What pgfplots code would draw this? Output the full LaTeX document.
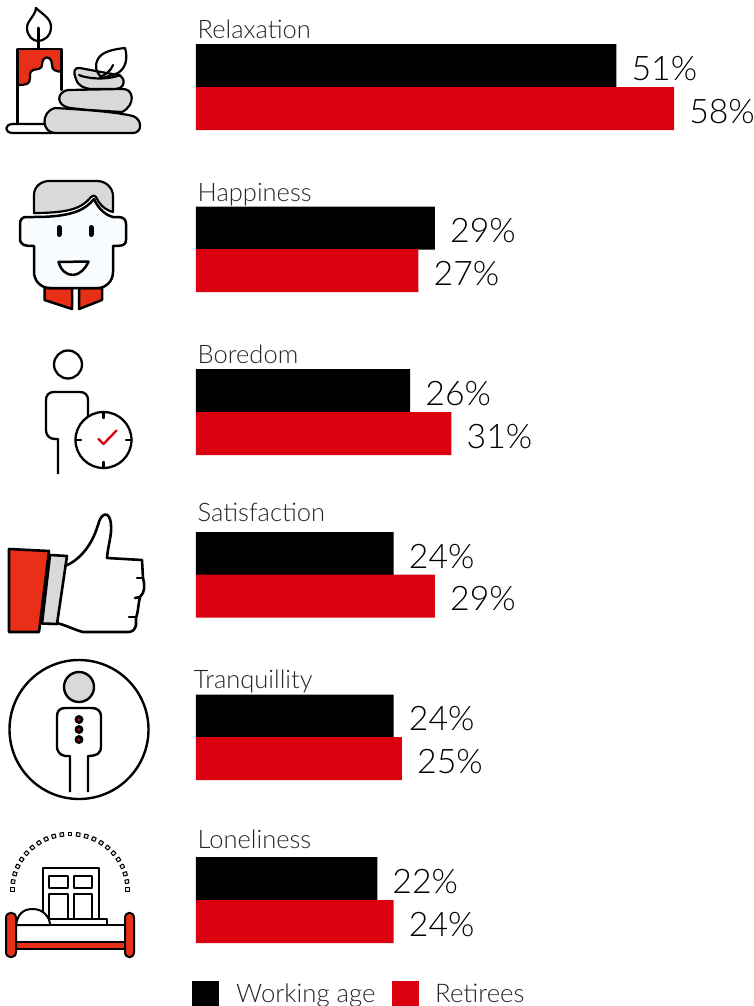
\documentclass[border=0pt]{standalone}
\usepackage{fontspec}
\setmainfont{Lato Light}
\usepackage{pgfplots}
\pgfplotsset{compat=1.18}
\usepackage{pgfplotstable}
\definecolor{barred}{HTML}{DA0010}
\definecolor{iconred}{HTML}{E83018}
\definecolor{icongrey}{HTML}{D8DAD9}
\definecolor{faceblue}{HTML}{F9FCFF}
\pgfplotstableread{
ypos value
65.5 51
228 29
390.5 26
553.5 24
716 24
878.5 22
}\workingage
\pgfplotstableread{
ypos value
108.5 58
270.5 27
433.5 31
596 29
758.5 25
921.5 24
}\retirees
\newcommand{\catlabel}[3]{\node[anchor=base west,inner sep=0pt,font=\fontsize{25.5}{25.5}\selectfont,text=black!85] at (axis cs:#1,#2) {#3};}
\begin{document}
\begin{tikzpicture}
\begin{axis}[
  at={(0pt,0pt)},anchor=north west,
  scale only axis,width=753pt,height=1006pt,
  hide axis,clip=false,
  xmin=-23.7576,xmax=67.5758,
  ymin=0,ymax=1006,y dir=reverse,
  xbar,bar width=43,bar shift=0pt,
  point meta=x,
  nodes near coords={\pgfmathprintnumber[assume math mode=true]{\pgfplotspointmeta}\%},
  every node near coord/.append style={font=\fontsize{33.8}{33.8}\selectfont,anchor=west,inner sep=0pt,xshift=15pt,yshift=-3pt,text=black},
]
\addplot[fill=black,draw=none] table[x=value,y=ypos]{\workingage};
\addplot[fill=barred,draw=none] table[x=value,y=ypos]{\retirees};
\catlabel{0.2}{38.7}{Relaxation}
\catlabel{0.2}{201.7}{Happiness}
\catlabel{0.2}{363.7}{Boredom}
\catlabel{0.2}{521.7}{Satisfaction}
\catlabel{-0.3}{688.7}{Tranquillity}
\catlabel{0.2}{848.7}{Loneliness}
\end{axis}
\begin{scope}[x=1pt,y=-1pt,line join=round,line cap=round]
% legend
\fill[black] (192,981) rectangle (219,1006);
\fill[barred] (392,981) rectangle (419,1006);
\node[anchor=base west,inner sep=0pt,font=\fontsize{25.7}{25.7}\selectfont,text=black!85] at (236,1002) {Working age};
\node[anchor=base west,inner sep=0pt,font=\fontsize{25.7}{25.7}\selectfont,text=black!85] at (435,1002) {Retirees};
% candle and stones
\begin{scope}[line width=2.2pt]
\fill[iconred] (17.5,49) -- (61.5,49) -- (61.5,72) .. controls (55,71) and (52,70) .. (52,65) .. controls (52,55) and (42,55) .. (42,65) .. controls (42,69) and (38,69) .. (33,70) .. controls (30,71) and (30,73) .. (30,78) .. controls (30,84) and (27,85) .. (17.5,85) -- cycle;
\draw (17.5,124) -- (17.5,49) -- (61.5,49) -- (61.5,90);
\draw (17.5,85) .. controls (27,85) and (30,84) .. (30,78) .. controls (30,73) and (30,71) .. (33,70) .. controls (38,69) and (42,69) .. (42,65) .. controls (42,55) and (52,55) .. (52,65) .. controls (52,70) and (55,71) .. (61.5,72);
\draw[line width=3pt] (38.5,28) -- (38.5,49);
\draw (36,8) .. controls (42,14) and (51,18) .. (51,27) .. controls (51,37) and (43,41) .. (38,41) .. controls (33,41) and (27,36) .. (27,28) .. controls (27,20) and (35,17) .. (36,8) -- cycle;
\draw (46,124) -- (13,124) .. controls (4,124) and (4,133) .. (13,133) -- (52,133);
\filldraw[fill=icongrey] (80,68) .. controls (74,67) and (73,72) .. (76,79) .. controls (78,86) and (84,88) .. (90,89) -- (115,89) .. controls (126,89) and (126,77) .. (118,75) .. controls (107,73) and (95,71) .. (80,68) -- cycle;
\filldraw[fill=icongrey] (68,90) -- (122,89) .. controls (134,88) and (136,105) .. (122,112) -- (88,110) -- (70,108) .. controls (56,106) and (56,92) .. (68,90) -- cycle;
\filldraw[fill=icongrey] (55,108) .. controls (90,110) and (115,112) .. (133,116) .. controls (143,120) and (142,133) .. (133,133) -- (55,133) .. controls (42,133) and (40,112) .. (55,108) -- cycle;
\draw (125,48) .. controls (128,58) and (126,68) .. (118,73) -- (103,78) .. controls (96,74) and (94,66) .. (98,59) .. controls (102,51) and (116,49) .. (125,48) -- cycle;
\draw (113,65) .. controls (110,72) and (105,75) .. (100,77);
\draw (79,75) .. controls (85,78) and (105,81) .. (120,75);
\end{scope}
% face
\begin{scope}[line width=2.5pt]
\filldraw[fill=iconred] (44.5,288) -- (44.5,300) -- (72,309) -- (72,288) -- cycle;
\filldraw[fill=iconred] (79,309) -- (102,300) -- (102,288) -- (79,288) -- cycle;
\filldraw[fill=faceblue] (26,217) -- (34,217) .. controls (72,217) and (85,210) .. (94,199) .. controls (98,208) and (105,215) .. (113,217) -- (118,217) .. controls (124,217) and (126,220) .. (126,224) -- (126,240) .. controls (126,245) and (123,246) .. (113,246) -- (113,272) .. controls (113,282) and (105,288) .. (98,288) -- (50,288) .. controls (40,288) and (34,280) .. (34,272) -- (34,246) .. controls (24,246) and (20,245) .. (20,238) -- (20,224) .. controls (20,220) and (22,217) .. (26,217) -- cycle;
\filldraw[fill=icongrey,line width=2.2pt] (34,213) -- (34,195) .. controls (34,186) and (42,181) .. (49,181) -- (97,181) .. controls (106,181) and (113,188) .. (113,196) -- (113,212) .. controls (105,210) and (99,204) .. (96,197) .. controls (95,195) and (93,195) .. (91,197) .. controls (82,208) and (70,213) .. (34,213) -- cycle;
\draw[line width=5pt] (59,227.5) -- (59,234.5);
\draw[line width=5pt] (91,227.5) -- (91,234.5);
\filldraw[fill=white] (58.5,262) -- (88.5,261.5) .. controls (85,270) and (78,275) .. (73,275) .. controls (66,275) and (61,270) .. (58.5,262) -- cycle;
\end{scope}
% person with clock
\begin{scope}[line width=2.3pt]
\draw (68,364.5) circle (14);
\draw[line cap=butt] (58,474) -- (58,439) -- (55,439) .. controls (49,439) and (46,435) .. (46,430) -- (46,400) .. controls (46,395) and (49,392) .. (54,392) -- (80,392) .. controls (85,392) and (88,395) .. (88,400) -- (88,417);
\draw (103.5,440) circle (28);
\draw (103.5,412) -- (103.5,418);
\draw (103.5,462) -- (103.5,468);
\draw (75.5,440) -- (81,440);
\draw (126,440) -- (131.5,440);
\draw[barred] (98.5,439) -- (103.5,444) -- (116.5,430.5);
\end{scope}
% thumbs up
\begin{scope}[line width=2.6pt]
\filldraw[fill=icongrey] (50,555) -- (67,556) -- (57,624) -- (42,623.5) -- cycle;
\filldraw[fill=iconred] (9,549) -- (49,551) -- (39,632) -- (9,632) -- cycle;
\draw (65,566) .. controls (80,560) and (92,545) .. (98,525) .. controls (101,512) and (110,510) .. (111,525) .. controls (112,535) and (108,545) .. (107,558) -- (142,560) -- (143,578) .. controls (145,586) and (145,592) .. (140,597) -- (139,602) .. controls (138,608) and (138,612) .. (136,618) -- (136,625) .. controls (135,630) and (132,632) .. (128,632) -- (83,632) .. controls (75,630) and (68,626) .. (57,623);
\draw (137,578) -- (143,578);
\draw (135,598) -- (140,597);
\draw (129,617) -- (136,617);
\end{scope}
% person in a circle
\begin{scope}[line width=2.4pt]
\draw (79,729.5) circle (69.5);
\filldraw[fill=icongrey] (79,687) circle (15);
\draw[line cap=butt] (70,792) -- (70,756) -- (65,756) .. controls (59,755) and (57,750) .. (57,747) -- (57,716) .. controls (57,711) and (60,708) .. (65,708) -- (92,708) .. controls (97,708) and (101,711) .. (101,716) -- (101,747) .. controls (101,752) and (98,756) .. (88,756) -- (88,792);
\foreach \yy in {719.5,729.5,739.5}{
  \fill[black] (79,\yy) circle (4.5);
  \fill[barred] (79,\yy) circle (1.5);
}
\end{scope}
% bed under an arch of lights
\begin{scope}[line width=2pt]
\draw (43,921) -- (43,868) -- (98.5,868) -- (98.5,919);
\draw (49,876) rectangle (67.5,888);
\draw (73.5,876) rectangle (92,888);
\draw (49,894) rectangle (67.5,919);
\draw (73.5,894) rectangle (92,919);
\draw (50,919) -- (107,919) -- (107,925);
\draw (13,925) -- (128,925);
\filldraw[fill=white] (16,925) .. controls (18,912) and (25,909) .. (33,909) .. controls (43,909) and (50,917) .. (50,925) -- cycle;
\filldraw[fill=iconred] (15,942) rectangle (126,949);
\filldraw[fill=iconred] (6,918) .. controls (6,911) and (16,911) .. (16,918) -- (16,952) .. controls (16,959) and (6,959) .. (6,952) -- cycle;
\filldraw[fill=iconred] (125,918) .. controls (125,911) and (134,911) .. (134,918) -- (134,952) .. controls (134,959) and (125,959) .. (125,952) -- cycle;
\foreach \step in {0,1,...,22}{
  \pgfmathsetmacro{\ang}{\step*180/22}
  \pgfmathsetmacro{\px}{70+57.5*cos(\ang)}
  \pgfmathsetmacro{\py}{889.5-55.5*sin(\ang)}
  \draw[line width=1pt,fill=black!10,shift={(\px,\py)},rotate=\ang] (-1.8,-1.8) rectangle (1.8,1.8);
}
\end{scope}
\end{scope}
\pgfresetboundingbox
\useasboundingbox (0pt,0pt) rectangle (753pt,-1006pt);
\end{tikzpicture}
\end{document}
